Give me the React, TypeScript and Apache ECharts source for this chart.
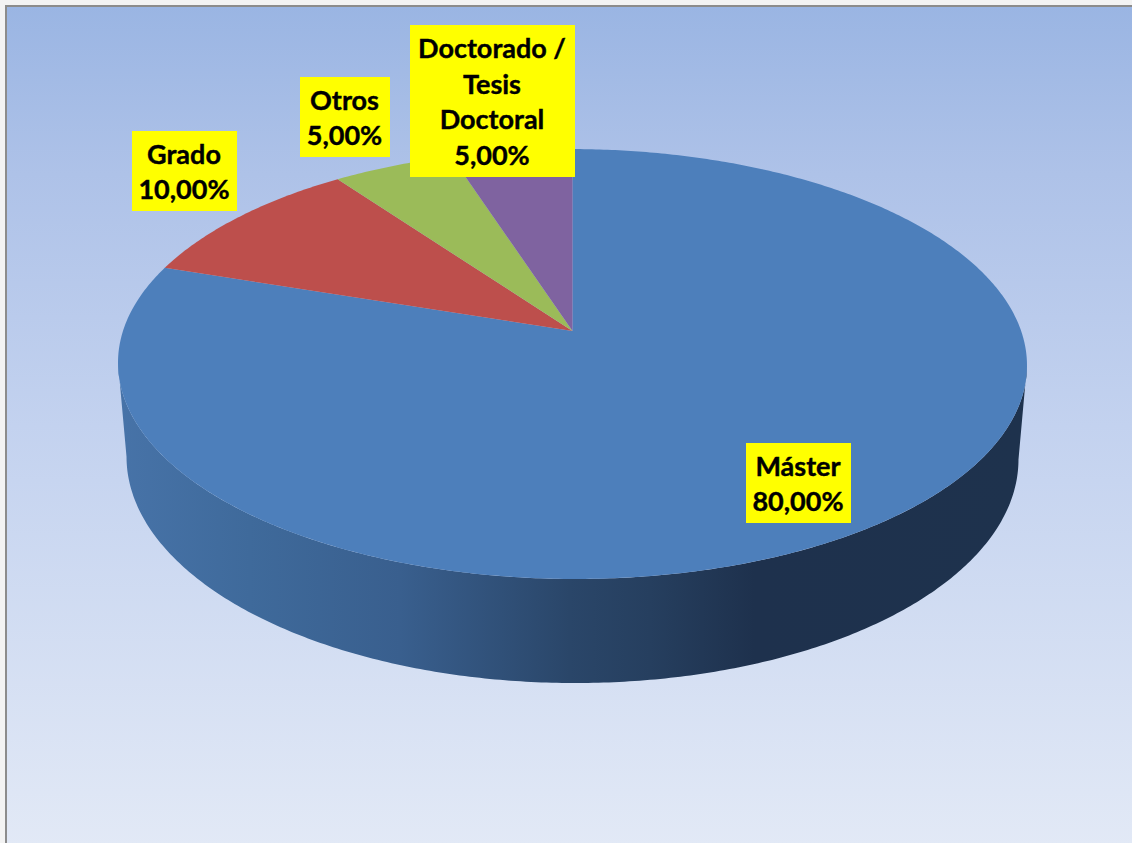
import React, { useEffect, useRef } from "react";
import * as echarts from "echarts";

const categories = ["Máster", "Grado", "Otros", "Doctorado /\nTesis\nDoctoral"];
const percentages = [80, 10, 5, 5];
const sliceColors = ["#4d7fbb", "#bd4f4c", "#9bbb59", "#7f63a0"];

// label boxes: [left, top, width, height]
const labelBoxes = [
  [746, 443, 105, 80],
  [132, 131, 105, 80],
  [300, 77, 90, 80],
  [410, 25, 165, 152],
];

// perspective disc geometry
const CX = 572.5;
const PERSP = 0.1535;
const TOP_DISC = { A: 449.1, B: 209.9, y0: 331 };
const BOTTOM_DISC = { A: 440.7, B: 219.7, y0: 423.5 };
const SKEW = 0.003;

function project(disc: { A: number; B: number; y0: number }, t: number) {
  const u = Math.sin(t);
  const v = -Math.cos(t);
  const d = 1 - PERSP * v;
  const x = CX + (disc.A * u) / d;
  const y = disc.y0 + (disc.B * v) / d + SKEW * ((disc.A * u) / d);
  return [x, y];
}

function arcPoints(disc: any, from: number, to: number) {
  const pts: number[][] = [];
  const steps = Math.max(2, Math.ceil(Math.abs(to - from) / 0.01));
  for (let i = 0; i <= steps; i++) pts.push(project(disc, from + ((to - from) * i) / steps));
  return pts;
}

const total = percentages.reduce((a, b) => a + b, 0);

function renderSlice(params: any, api: any) {
  const i = params.dataIndex;
  const before = percentages.slice(0, i).reduce((a, b) => a + b, 0);
  const from = (before / total) * Math.PI * 2;
  const to = ((before + api.value(0)) / total) * Math.PI * 2;
  const children: any[] = [];
  // the wall is visible between the two silhouette tangents of the disc
  const tStart = Math.acos(-PERSP);
  const tEnd = Math.PI * 2 - tStart;
  if (Math.min(to, tEnd) > Math.max(from, tStart)) {
    const bottom = arcPoints(BOTTOM_DISC, tStart, tEnd);
    const top = arcPoints(TOP_DISC, tEnd, tStart);
    children.push({
      type: "polygon",
      shape: { points: [...bottom, ...top] },
      style: {
        fill: new echarts.graphic.LinearGradient(0, 0, 1, 0, [
          { offset: 0, color: "#4773a8" },
          { offset: 0.145, color: "#3f6a9b" },
          { offset: 0.31, color: "#395f8e" },
          { offset: 0.497, color: "#2a4669" },
          { offset: 0.585, color: "#263f5f" },
          { offset: 0.7, color: "#1e314d" },
          { offset: 1, color: "#1e324d" },
        ]),
      },
    });
  }
  children.push({
    type: "polygon",
    shape: { points: [[CX, TOP_DISC.y0], ...arcPoints(TOP_DISC, from, to)] },
    style: { fill: sliceColors[i] },
  });
  return { type: "group", children };
}

function renderLabel(params: any, api: any) {
  const i = params.dataIndex;
  const [x, y, w, h] = labelBoxes[i];
  const pct = api.value(0).toFixed(2).replace(".", ",") + "%";
  return {
    type: "group",
    children: [
      { type: "rect", shape: { x, y, width: w, height: h }, style: { fill: "#ffff00" } },
      {
        type: "text",
        style: {
          x: x + w / 2 - 0.5,
          y: y + h / 2,
          text: categories[i] + "\n" + pct,
          align: "center",
          verticalAlign: "middle",
          fontFamily: "Lato",
          fontWeight: "bold",
          fontSize: 27,
          lineHeight: 35.5,
          fill: "#000000",
          stroke: "#000000",
          lineWidth: 0.4,
        },
      },
    ],
  };
}

export default function App() {
  const ref = useRef<HTMLDivElement>(null);
  useEffect(() => {
    document.body.style.margin = "0";
    const chart = echarts.init(ref.current!, undefined, { renderer: "svg" });
    const data = percentages.map((v, i) => ({ name: categories[i], value: [v] }));
    chart.setOption({
      animation: false,
      backgroundColor: "#f3f3f3",
      graphic: [
        {
          type: "rect",
          silent: true,
          z: -10,
          shape: { x: 6, y: 6, width: 1130, height: 840 },
          style: {
            stroke: "#8c8c8c",
            lineWidth: 2,
            fill: new echarts.graphic.LinearGradient(0, 0, 0, 1, [
              { offset: 0, color: "#9ab5e3" },
              { offset: 0.2, color: "#aec2e8" },
              { offset: 0.5, color: "#c3d2ef" },
              { offset: 1, color: "#e2e9f6" },
            ]),
          },
        },
      ],
      series: [
        { type: "custom", coordinateSystem: "none", renderItem: renderSlice, data, silent: true, z: 2 },
        { type: "custom", coordinateSystem: "none", renderItem: renderLabel, data, silent: true, z: 3 },
      ],
    });
    return () => chart.dispose();
  }, []);
  return <div ref={ref} style={{ position: "fixed", left: 0, top: 0, width: 1132, height: 843 }} />;
}
